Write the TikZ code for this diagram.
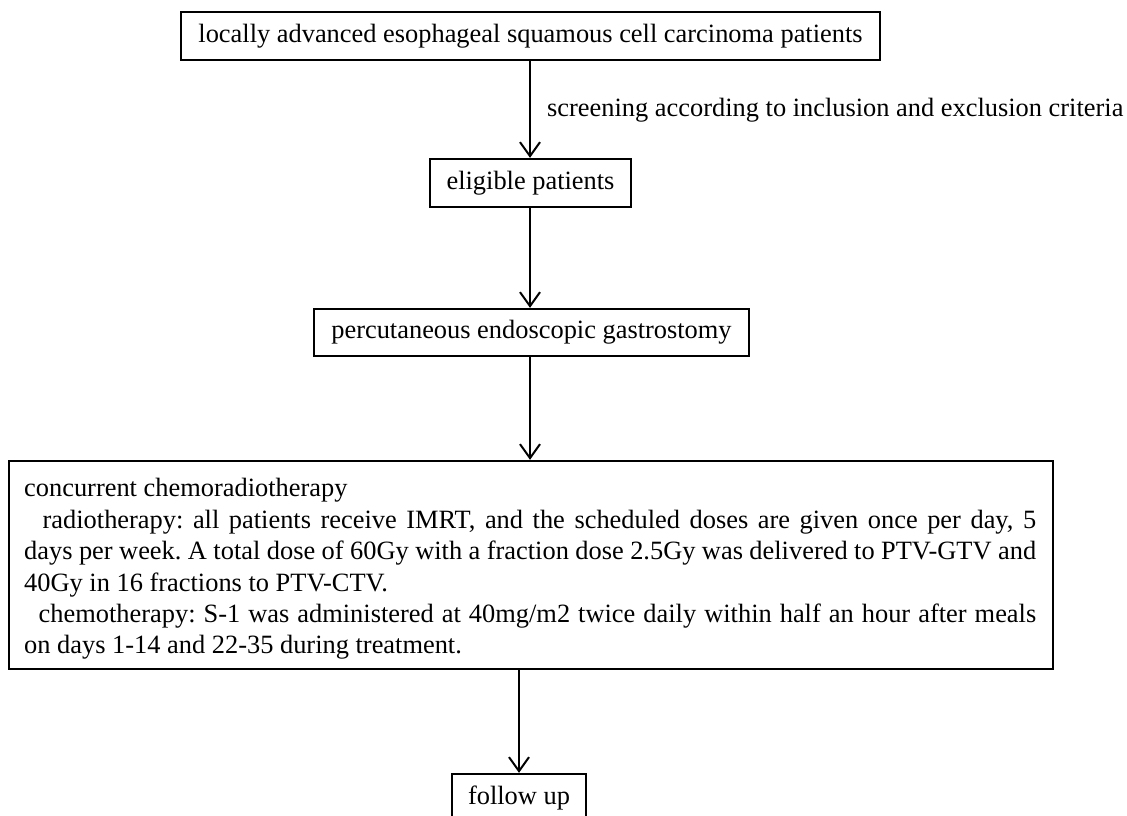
\documentclass[tikz,border=0pt]{standalone}
\usepackage{fontspec}
\setmainfont{Liberation Serif}
\usetikzlibrary{arrows.meta}
\frenchspacing
\begin{document}
\begin{tikzpicture}[x=1pt,y=-1pt,
  box/.style={draw=black, line width=2.3pt, inner sep=0pt, align=center,
    font=\fontsize{26.4}{30}\selectfont, text=black},
  arr/.style={-{Straight Barb[length=14pt,width=20pt,line width=2pt]}, line width=2pt},
  txt/.style={inner sep=0pt, font=\fontsize{26.4}{30}\selectfont, text=black}]
\useasboundingbox (0,0) rectangle (1127,816);
\clip (0,0) rectangle (1127,816);
\node[box, minimum width=699, minimum height=48] (b1) at (530.5,36) {locally advanced esophageal squamous cell carcinoma patients};
\node[box, minimum width=201, minimum height=48] (b2) at (530.5,183) {eligible patients};
\node[box, minimum width=435, minimum height=47] (b3) at (531.5,332.5) {percutaneous endoscopic gastrostomy};
\node[box, minimum width=1044, minimum height=208] (b4) at (531,565) {};
\node[txt, anchor=west, text width=1012pt, align=justify, font=\fontsize{26.4}{31.4}\selectfont] (t4) at (24,569) {concurrent chemoradiotherapy\par
\hspace*{0.7em}radiotherapy: all patients receive IMRT, and the scheduled doses are given once per day, 5\linebreak
days per week. A total dose of 60Gy with a fraction dose 2.5Gy was delivered to PTV-GTV and\linebreak
40Gy in 16 fractions to PTV-CTV.\par
\hspace*{0.55em}chemotherapy: S-1 was administered at 40mg/m2 twice daily within half an hour after meals\linebreak
on days 1-14 and 22-35 during treatment.};
\node[box, minimum width=134, minimum height=48] (b5) at (519,798) {follow up};
\node[txt, anchor=west] (lab) at (547,110) {screening according to inclusion and exclusion criteria};
\draw[arr] (b1.south -| 530,0) -- (b2.north -| 530,0);
\draw[arr] (b2.south -| 530,0) -- (b3.north -| 530,0);
\draw[arr] (b3.south -| 530,0) -- (b4.north -| 530,0);
\draw[arr] (b4.south -| b5.north) -- (b5.north);
\end{tikzpicture}
\end{document}
